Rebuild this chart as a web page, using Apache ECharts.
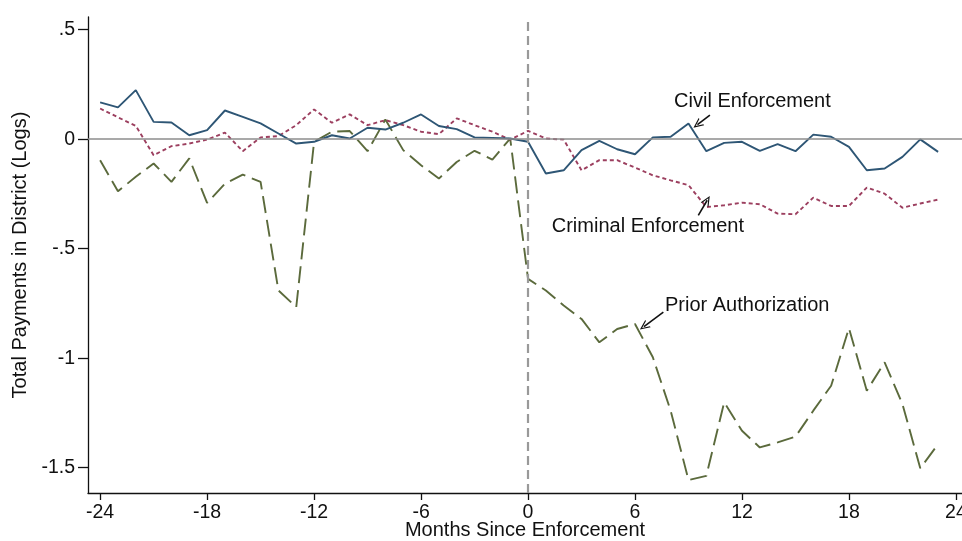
<!DOCTYPE html>
<html>
<head>
<meta charset="utf-8">
<script src="https://cdn.jsdelivr.net/npm/echarts@6/dist/echarts.min.js"></script>
<style>html,body{margin:0;padding:0;background:#fff;}#c{width:962px;height:541px;}</style>
</head>
<body>
<div id="c"></div>
<script>
// ---- data ----
const months = [-24,-23,-22,-21,-20,-19,-18,-17,-16,-15,-14,-13,-12,-11,-10,-9,-8,-7,-6,-5,-4,-3,-2,-1,
                0,1,2,3,4,5,6,7,8,9,10,11,12,13,14,15,16,17,18,19,20,21,22,23];
const civil = [0.168,0.145,0.224,0.079,0.076,0.018,0.041,0.131,0.102,0.072,0.026,-0.020,-0.012,0.018,0.003,0.052,0.044,0.075,0.113,0.060,0.046,0.008,0.006,0.003,
               -0.012,-0.157,-0.142,-0.050,-0.008,-0.046,-0.069,0.008,0.011,0.072,-0.055,-0.017,-0.012,-0.053,-0.023,-0.055,0.021,0.011,-0.035,-0.142,-0.134,-0.081,-0.001,-0.058];
const criminal = [0.140,0.100,0.061,-0.073,-0.032,-0.020,-0.002,0.030,-0.055,0.008,0.014,0.064,0.136,0.075,0.113,0.064,0.087,0.064,0.034,0.023,0.095,0.064,0.034,-0.002,
                  0.038,0.003,-0.002,-0.142,-0.096,-0.096,-0.130,-0.165,-0.188,-0.210,-0.310,-0.302,-0.290,-0.297,-0.340,-0.343,-0.267,-0.305,-0.305,-0.221,-0.249,-0.313,-0.294,-0.276];
const prior = [-0.096,-0.238,-0.172,-0.111,-0.195,-0.088,-0.291,-0.203,-0.162,-0.195,-0.691,-0.767,-0.012,0.034,0.037,-0.055,0.090,-0.050,-0.119,-0.180,-0.104,-0.053,-0.093,0.003,
               -0.638,-0.691,-0.760,-0.821,-0.928,-0.867,-0.844,-0.996,-1.240,-1.557,-1.538,-1.202,-1.332,-1.408,-1.385,-1.359,-1.240,-1.126,-0.863,-1.149,-1.019,-1.210,-1.503,-1.393];
const xTicks = [-24,-18,-12,-6,0,6,12,18,24];
const yTicks = [-1.5,-1,-0.5,0,0.5];
const yTickLabels = ["-1.5","-1","-.5","0",".5"];
const seriesNames = ["Civil Enforcement","Criminal Enforcement","Prior Authorization"];

const FONT = "'Liberation Sans', Arial, sans-serif";
const FS_TICK = 19.5;
const FS_NAME = 20;
const chevron = 'path://M0 10 L5 0 L10 10 L8.6 10 L5 2.8 L1.4 10 Z';

function pts(vals){ return months.map((m,i)=>[m, vals[i]]); }

function annot(name, tx, ty, ax1, ay1, ax2, ay2){
  return {
    markPoint: {
      silent: true, symbol: 'circle', symbolSize: 0,
      label: {show: true, formatter: name, position: 'right', distance: 0,
              color: '#111', fontFamily: FONT, fontSize: FS_NAME},
      data: [{coord: [tx, ty]}]
    },
    markLine: {
      silent: true, symbol: ['none', chevron], symbolSize: [9, 10],
      label: {show: false},
      lineStyle: {color: '#111', width: 1.6, type: 'solid'},
      data: [[{coord: [ax1, ay1]}, {coord: [ax2, ay2]}]]
    }
  };
}

const chart = echarts.init(document.getElementById('c'), null, {renderer: 'canvas'});
const option = {
  animation: false,
  backgroundColor: '#fff',
  grid: {left: 88, right: 0, top: 17, bottom: 48, containLabel: false, outerBoundsMode: 'none'},
  xAxis: {
    type: 'value', min: -24.68, max: 24.34,
    name: 'Months Since Enforcement', nameLocation: 'middle', nameGap: 37, nameMoveOverlap: false,
    nameTextStyle: {color: '#111', fontFamily: FONT, fontSize: FS_NAME, verticalAlign: 'middle'},
    axisLine: {show: true, onZero: false, lineStyle: {color: '#111', width: 1.3}},
    axisTick: {show: true, length: 7, customValues: xTicks, lineStyle: {color: '#111', width: 1.3}},
    axisLabel: {show: true, customValues: xTicks, margin: 10, color: '#111', fontFamily: FONT, fontSize: FS_TICK,
                formatter: v => String(v)},
    splitLine: {show: false}
  },
  yAxis: {
    type: 'value', min: -1.616, max: 0.558,
    name: 'Total Payments in District (Logs)', nameLocation: 'middle', nameGap: 68, nameRotate: 90, nameMoveOverlap: false,
    nameTextStyle: {color: '#111', fontFamily: FONT, fontSize: FS_NAME, verticalAlign: 'middle'},
    axisLine: {show: true, onZero: false, lineStyle: {color: '#111', width: 1.3}},
    axisTick: {show: true, length: 10, customValues: yTicks, lineStyle: {color: '#111', width: 1.3}},
    axisLabel: {show: true, customValues: yTicks, margin: 13, color: '#111', fontFamily: FONT, fontSize: FS_TICK,
                formatter: v => { const i = yTicks.findIndex(t => Math.abs(t - v) < 1e-9); return i >= 0 ? yTickLabels[i] : ''; }},
    splitLine: {show: false}
  },
  series: [
    {
      type: 'line', name: 'ref', data: [], z: 1, silent: true,
      markLine: {
        silent: true, symbol: 'none', label: {show: false},
        data: [
          {yAxis: 0, lineStyle: {color: '#8c8c8c', width: 1.6, type: 'solid'}},
          {xAxis: 0, lineStyle: {color: '#999999', width: 2.2, type: [9, 5]}}
        ]
      }
    },
    Object.assign({
      type: 'line', name: seriesNames[0], data: pts(civil), z: 4, showSymbol: false, symbol: 'none',
      lineStyle: {color: '#2e5675', width: 1.9, type: 'solid'}
    }, annot(seriesNames[0], 8.19, 0.171, 10.2, 0.11, 9.5, 0.066)),
    Object.assign({
      type: 'line', name: seriesNames[1], data: pts(criminal), z: 3, showSymbol: false, symbol: 'none',
      lineStyle: {color: '#9c3f5f', width: 1.9, type: [4, 3]}
    }, annot(seriesNames[1], 1.33, -0.401, 9.55, -0.348, 10.05, -0.279)),
    Object.assign({
      type: 'line', name: seriesNames[2], data: pts(prior), z: 2, showSymbol: false, symbol: 'none',
      lineStyle: {color: '#5b6a3c', width: 1.9, type: [17, 7]}
    }, annot(seriesNames[2], 7.68, -0.76, 7.59, -0.79, 6.5, -0.856))
  ]
};
chart.setOption(option);
</script>
</body>
</html>
